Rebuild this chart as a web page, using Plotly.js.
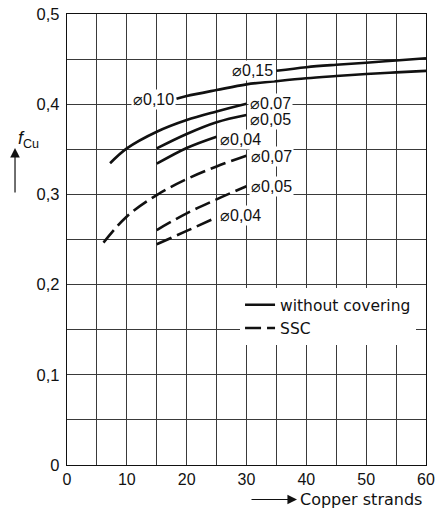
<!DOCTYPE html>
<html>
<head>
<meta charset="utf-8">
<script src="https://cdn.plot.ly/plotly-3.0.1.min.js"></script>
<style>
  html, body { margin: 0; padding: 0; background: #fff; }
  #chart { width: 435px; height: 513px; }
</style>
</head>
<body>
<div id="chart"></div>
<script>
// Copper fill factor f_Cu versus number of copper strands, per strand diameter

// without covering (solid)
const bare015X = [35, 40, 45, 50, 55, 60];
const bare015Y = [0.437, 0.441, 0.4437, 0.446, 0.4485, 0.451];
const bare010X = [18.3, 20, 25, 30, 35, 40, 45, 50, 55, 60];
const bare010Y = [0.406, 0.409, 0.4157, 0.422, 0.4255, 0.4287, 0.4312, 0.4335, 0.4353, 0.437];
const bare007X = [7.2, 10, 15, 20, 25, 30];
const bare007Y = [0.3345, 0.351, 0.3695, 0.3825, 0.392, 0.4005];
const bare005X = [15, 20, 25, 30];
const bare005Y = [0.351, 0.367, 0.380, 0.388];
const bare004X = [15, 20, 25];
const bare004Y = [0.334, 0.3515, 0.364];

// SSC (dashed)
const ssc007X = [6.1, 10, 15, 20, 25, 30];
const ssc007Y = [0.2465, 0.2755, 0.2993, 0.317, 0.331, 0.343];
const ssc005X = [15, 20, 25, 30];
const ssc005Y = [0.2605, 0.279, 0.2945, 0.309];
const ssc004X = [15, 20, 25];
const ssc004Y = [0.2447, 0.2595, 0.2745];

const diameterLabels = ['\u23000,15', '\u23000,10', '\u23000,07', '\u23000,05', '\u23000,04',
                        '\u23000,07', '\u23000,05', '\u23000,04'];
const groupNames = ['without covering', 'SSC'];

const xTickVals = [0, 10, 20, 30, 40, 50, 60];
const xTickText = ['0', '10', '20', '30', '40', '50', '60'];
const yTickVals = [0, 0.1, 0.2, 0.3, 0.4, 0.5];
const yTickText = ['0', '0,1', '0,2', '0,3', '0,4', '0,5'];

const narrow = '"Liberation Sans", Arial, sans-serif';
const plain = '"DejaVu Sans", Arial, sans-serif';
const ink = '#111';

const curves = [
  [bare015X, bare015Y, 0], [bare010X, bare010Y, 0], [bare007X, bare007Y, 0],
  [bare005X, bare005Y, 0], [bare004X, bare004Y, 0],
  [ssc007X, ssc007Y, 1], [ssc005X, ssc005Y, 1], [ssc004X, ssc004Y, 1]
];
const seen = {};
const traces = curves.map(([xs, ys, g]) => {
  const first = !seen[g];
  seen[g] = true;
  return {
    type: 'scatter', mode: 'lines', x: xs, y: ys,
    name: groupNames[g], legendgroup: groupNames[g], showlegend: first,
    line: { color: ink, width: 2.6, shape: 'spline', smoothing: 1,
            dash: g === 0 ? 'solid' : '16px,6px' },
    hoverinfo: 'skip'
  };
});

// label placement: [x, y, anchor]
const labelPlace = [
  [34.8, 0.4375, 'right'], [18.2, 0.405, 'right'], [30.3, 0.401, 'left'],
  [30.3, 0.3825, 'left'], [25.25, 0.361, 'left'],
  [30.4, 0.342, 'left'], [30.4, 0.309, 'left'], [25.25, 0.277, 'left']
];
const annotations = diameterLabels.map((t, i) => ({
  x: labelPlace[i][0], y: labelPlace[i][1], xref: 'x', yref: 'y',
  text: t, showarrow: false, xanchor: labelPlace[i][2], yanchor: 'middle',
  bgcolor: '#fff', borderpad: 1,
  font: { family: narrow, size: 16, color: ink }
}));

// y-axis title with upward arrow
annotations.push({
  xref: 'paper', yref: 'paper', x: -0.142, y: 0.752,
  text: '<i>f</i><sub>Cu</sub>', showarrow: false,
  font: { family: narrow, size: 18, color: ink }
});
annotations.push({
  xref: 'paper', yref: 'paper', x: -0.1448, y: 0.703,
  text: '', showarrow: true, ax: 0, ay: 46,
  arrowhead: 2, arrowsize: 1.6, arrowwidth: 1.2, arrowcolor: ink
});
// x-axis title with right arrow
annotations.push({
  xref: 'paper', yref: 'paper', x: 0.6435, y: -0.0765,
  text: 'Copper strands', showarrow: false, xanchor: 'left', yanchor: 'middle',
  font: { family: plain, size: 16, color: ink }
});
annotations.push({
  xref: 'paper', yref: 'paper', x: 0.6407, y: -0.0765,
  text: '', showarrow: true, ax: -47, ay: 0,
  arrowhead: 2, arrowsize: 1.6, arrowwidth: 1.2, arrowcolor: ink
});

const grid = '#3a3a3a';
const layout = {
  width: 435, height: 513,
  margin: { l: 67, r: 9, t: 14, b: 48 },
  paper_bgcolor: '#fff', plot_bgcolor: '#fff',
  showlegend: true,
  legend: {
    x: 0.482, y: 0.392, xanchor: 'left', yanchor: 'top',
    bgcolor: '#fff', borderwidth: 0, tracegroupgap: 0,
    font: { family: plain, size: 15.5, color: ink }
  },
  xaxis: {
    range: [0, 60], tickmode: 'array', tickvals: xTickVals, ticktext: xTickText,
    showgrid: true, gridcolor: grid, gridwidth: 1,
    minor: { dtick: 5, showgrid: true, gridcolor: grid, gridwidth: 1 },
    showline: true, mirror: true, linecolor: ink, linewidth: 1.2,
    zeroline: false, ticks: '', ticklabelstandoff: 0, ticklabeloverflow: 'allow',
    tickfont: { family: narrow, size: 16, color: ink }
  },
  yaxis: {
    range: [0, 0.5], tickmode: 'array', tickvals: yTickVals, ticktext: yTickText,
    showgrid: true, gridcolor: grid, gridwidth: 1,
    minor: { dtick: 0.05, showgrid: true, gridcolor: grid, gridwidth: 1 },
    showline: true, mirror: true, linecolor: ink, linewidth: 1.2,
    zeroline: false, ticks: '', ticklabelstandoff: 3, ticklabeloverflow: 'allow',
    tickfont: { family: narrow, size: 16.5, color: ink }
  },
  annotations: annotations
};

Plotly.newPlot('chart', traces, layout, { staticPlot: true, displayModeBar: false });
</script>
</body>
</html>
